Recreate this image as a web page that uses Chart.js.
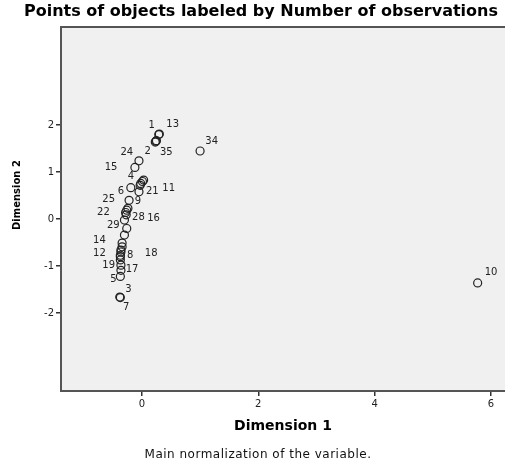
<!DOCTYPE html>
<html>
<head>
<meta charset="utf-8">
<script src="https://cdn.jsdelivr.net/npm/chart.js@4.4.0/dist/chart.umd.min.js"></script>
<style>
  html, body { margin: 0; padding: 0; background: #fff; }
  canvas { display: block; }
</style>
</head>
<body>
<canvas id="chart" width="505" height="462"></canvas>
<script>
// object scores, one entry per observation (id 1..35)
const objectIds = [1, 2, 3, 4, 5, 6, 7, 8, 9, 10, 11, 12, 13, 14, 15, 16, 17, 18, 19, 20,
  21, 22, 23, 24, 25, 26, 27, 28, 29, 30, 31, 32, 33, 34, 35];
const dimension1 = [0.30, 0.25, -0.38, 0.03, -0.37, -0.19, -0.37, -0.36, -0.22, 5.77,
  -0.05, -0.34, 0.24, -0.30, -0.12, -0.28, -0.36, -0.37, -0.37, -0.34,
  -0.03, -0.26, -0.37, -0.05, -0.24, -0.26, -0.36, -0.27, -0.30, -0.36,
  0.29, -0.02, 0.01, 1.00, 0.23];
const dimension2 = [1.81, 1.67, -1.66, 0.83, -1.22, 0.67, -1.67, -0.70, 0.40, -1.36,
  0.58, -0.59, 1.66, -0.34, 1.10, 0.14, -0.98, -0.77, -0.87, -0.51,
  0.72, 0.19, -0.80, 1.24, 0.23, -0.20, -0.66, 0.09, -0.02, -1.09,
  1.80, 0.76, 0.80, 1.45, 1.64];

// labels that are visible in the plot and where they sit (data units)
const labelText = ['1', '13', '34', '24', '2', '35', '15', '4', '6', '21', '11', '25', '9',
  '22', '28', '16', '29', '14', '12', '8', '18', '19', '17', '5', '3', '7', '10'];
const labelDim1 = [0.17, 0.53, 1.20, -0.26, 0.10, 0.42, -0.53, -0.19, -0.36, 0.18, 0.46, -0.57, -0.07,
  -0.66, -0.06, 0.20, -0.49, -0.73, -0.73, -0.20, 0.16, -0.57, -0.17, -0.49, -0.23, -0.27, 6.00];
const labelDim2 = [2.00, 2.02, 1.66, 1.42, 1.44, 1.43, 1.09, 0.90, 0.60, 0.60, 0.66, 0.42, 0.38,
  0.14, 0.03, 0.01, -0.14, -0.45, -0.72, -0.78, -0.72, -0.98, -1.07, -1.28, -1.49, -1.87, -1.14];

const xTicks = [0, 2, 4, 6];
const yTicks = [-2, -1, 0, 1, 2];

const FONT = "'DejaVu Sans', sans-serif";

const points = objectIds.map((id, i) => ({ x: dimension1[i], y: dimension2[i], id: id }));

const decor = {
  id: 'decor',
  beforeDraw(chart) {
    const { ctx, chartArea: a } = chart;
    ctx.save();
    ctx.fillStyle = '#f0f0f0';
    ctx.fillRect(a.left, a.top, a.right - a.left, a.bottom - a.top);
    ctx.restore();
  },
  afterDatasetsDraw(chart) {
    const { ctx, scales } = chart;
    ctx.save();
    ctx.font = '10px ' + FONT;
    ctx.fillStyle = '#222';
    ctx.textAlign = 'center';
    ctx.textBaseline = 'middle';
    labelText.forEach((t, i) => {
      ctx.fillText(t, scales.x.getPixelForValue(labelDim1[i]), scales.y.getPixelForValue(labelDim2[i]));
    });
    ctx.restore();
  },
  afterDraw(chart) {
    const { ctx, chartArea: a } = chart;
    ctx.save();
    // top frame line
    ctx.strokeStyle = '#555';
    ctx.lineWidth = 2;
    ctx.beginPath();
    ctx.moveTo(a.left, a.top);
    ctx.lineTo(a.right, a.top);
    ctx.stroke();

    ctx.fillStyle = '#000';
    ctx.textAlign = 'center';
    ctx.textBaseline = 'middle';
    ctx.font = 'bold 16px ' + FONT;
    ctx.fillText('Points of objects labeled by Number of observations', 261, 12);

    ctx.font = '12px ' + FONT;
    ctx.fillStyle = '#111';
    ctx.letterSpacing = '0.5px';
    ctx.fillText('Main normalization of the variable.', 258, 455);
    ctx.letterSpacing = '0px';

    ctx.translate(17, 195);
    ctx.rotate(-Math.PI / 2);
    ctx.font = 'bold 10px ' + FONT;
    ctx.fillStyle = '#000';
    ctx.fillText('Dimension 2', 0, 0);
    ctx.restore();
  }
};

new Chart(document.getElementById('chart'), {
  type: 'scatter',
  data: {
    datasets: [{
      label: 'Objects',
      data: points,
      pointStyle: 'circle',
      pointRadius: 4,
      pointHoverRadius: 4,
      pointBorderWidth: 1.2,
      pointBorderColor: '#222',
      pointBackgroundColor: 'rgba(0,0,0,0)',
      clip: false
    }]
  },
  options: {
    responsive: false,
    animation: false,
    layout: { autoPadding: false, padding: { top: 27, right: 0, bottom: 23, left: 0 } },
    plugins: {
      legend: { display: false },
      tooltip: { enabled: false },
      title: { display: false }
    },
    scales: {
      x: {
        type: 'linear',
        min: -1.39,
        max: 6.24,
        afterBuildTicks: (scale) => { scale.ticks = xTicks.map(v => ({ value: v })); },
        afterFit: (scale) => { scale.height = 48; scale.paddingRight = 0; scale.paddingLeft = 0; },
        grid: { drawOnChartArea: false, drawTicks: true, tickLength: 5, color: '#333', lineWidth: 1.5 },
        border: { display: true, color: '#555', width: 2 },
        ticks: { color: '#222', font: { family: FONT, size: 10 }, padding: 2, maxRotation: 0 },
        title: {
          display: true,
          text: 'Dimension 1',
          color: '#000',
          font: { family: FONT, size: 14, weight: 'bold' },
          padding: { top: 0, bottom: 4 }
        }
      },
      y: {
        type: 'linear',
        min: -3.66,
        max: 4.09,
        afterBuildTicks: (scale) => { scale.ticks = yTicks.map(v => ({ value: v })); },
        afterFit: (scale) => { scale.width = 61; scale.paddingTop = 0; scale.paddingBottom = 0; },
        grid: { drawOnChartArea: false, drawTicks: true, tickLength: 5, color: '#333', lineWidth: 1.5 },
        border: { display: true, color: '#555', width: 2 },
        ticks: { color: '#222', font: { family: FONT, size: 10 }, padding: 2 }
      }
    }
  },
  plugins: [decor]
});
</script>
</body>
</html>
